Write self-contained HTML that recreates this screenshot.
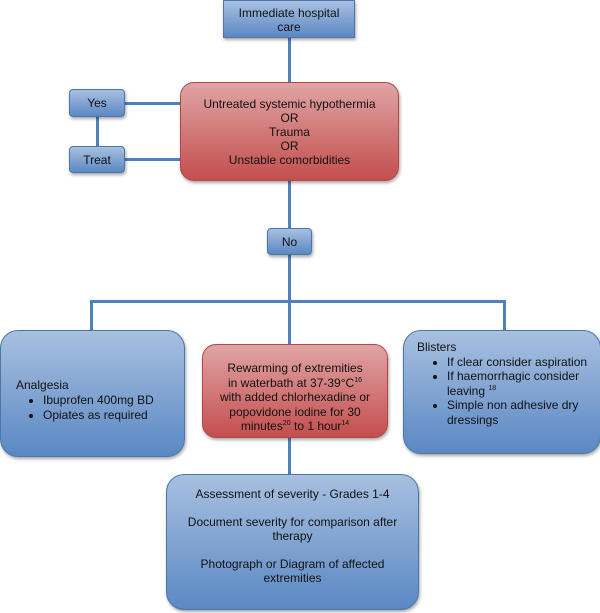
<!DOCTYPE html>
<html><head><style>
body{margin:0;width:600px;height:613px;background:#fff;position:relative;overflow:hidden;font-family:"Liberation Sans",sans-serif;font-size:12px;color:#111;}
.b{position:absolute;box-sizing:border-box;border:1px solid #4a76a8;background:linear-gradient(#a8c0e0,#5b88c4);box-shadow:1px 2px 3px rgba(0,0,0,.35);text-align:center;line-height:14px;}
.r{border-color:#b04848;background:linear-gradient(#e0a4a4,#c44e4e);}
.l{position:absolute;background:#4f81bd;}
sup{font-size:7px;line-height:0;}
ul{margin:0;padding-left:34px;text-align:left;}
li{margin:0;}
</style></head><body>
<div class="l" style="left:288px;top:38px;width:3px;height:46px"></div>
<div class="l" style="left:125px;top:102px;width:56px;height:3px"></div>
<div class="l" style="left:125px;top:158px;width:56px;height:3px"></div>
<div class="l" style="left:96px;top:117px;width:3px;height:30px"></div>
<div class="l" style="left:288px;top:181px;width:3px;height:48px"></div>
<div class="l" style="left:288px;top:255px;width:3px;height:90px"></div>
<div class="l" style="left:90px;top:300px;width:416px;height:3px"></div>
<div class="l" style="left:90px;top:300px;width:3px;height:31px"></div>
<div class="l" style="left:503px;top:300px;width:3px;height:31px"></div>
<div class="l" style="left:288px;top:438px;width:3px;height:37px"></div>

<div class="b" style="left:223px;top:0;width:132px;height:38px;padding-top:5px">Immediate hospital<br>care</div>
<div class="b r" style="left:180px;top:82px;width:219px;height:99px;border-radius:14px;padding-top:14px">Untreated systemic hypothermia<br>OR<br>Trauma<br>OR<br>Unstable comorbidities</div>
<div class="b" style="left:69px;top:89px;width:56px;height:28px;border-radius:4px;padding-top:6px">Yes</div>
<div class="b" style="left:69px;top:146px;width:56px;height:27px;border-radius:4px;padding-top:6px">Treat</div>
<div class="b" style="left:267px;top:228px;width:45px;height:27px;border-radius:4px;padding-top:6px">No</div>

<div class="b" style="left:0;top:330px;width:185px;height:127px;border-radius:18px;text-align:left;padding:47px 0 0 15px;line-height:15px">Analgesia
<ul style="padding-left:27px;list-style:disc"><li>Ibuprofen 400mg BD</li><li>Opiates as required</li></ul></div>
<div class="b r" style="left:202px;top:344px;width:186px;height:94px;border-radius:14px;padding-top:16px;line-height:14.5px">Rewarming of extremities<br>in waterbath at 37-39°C<sup>16</sup><br>with added chlorhexadine or<br>popovidone iodine for 30<br>minutes<sup>20</sup> to 1 hour<sup>14</sup></div>
<div class="b" style="left:403px;top:330px;width:198px;height:124px;border-radius:18px;text-align:left;padding:9px 0 0 13px;line-height:14.5px">Blisters
<ul style="padding-left:44px;margin-left:-14px"><li>If clear consider aspiration</li><li>If haemorrhagic consider leaving <sup>18</sup></li><li>Simple non adhesive dry dressings</li></ul></div>
<div class="b" style="left:166px;top:474px;width:253px;height:136px;border-radius:18px;padding-top:12px;line-height:14px">Assessment of severity - Grades 1-4<br><br>Document severity for comparison after<br>therapy<br><br>Photograph or Diagram of affected<br>extremities</div>
</body></html>
